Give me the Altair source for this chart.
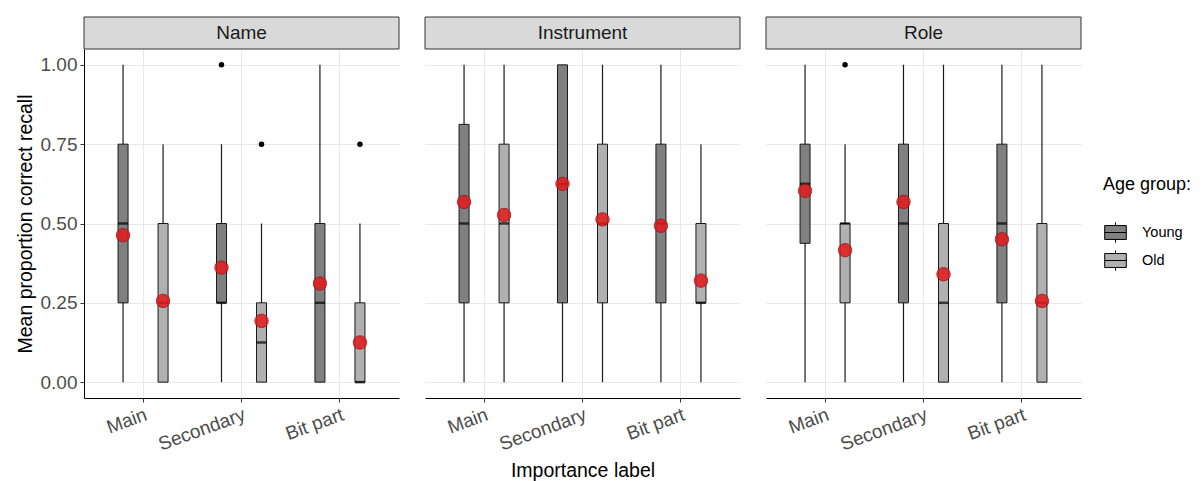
import altair as alt
import pandas as pd

panels = ["Name", "Instrument", "Role"]
labels = ["Main", "Secondary", "Bit part"]
ages = ["Young", "Old"]

# order: panel -> label -> age (Young, Old)
whisker_low = [0, 0, 0, 0, 0, 0,
               0, 0, 0, 0, 0, 0,
               0, 0, 0, 0, 0, 0]
whisker_high = [1.0, 0.75, 0.75, 0.5, 1.0, 0.5,
                1.0, 1.0, 1.0, 1.0, 1.0, 0.75,
                1.0, 0.75, 1.0, 1.0, 1.0, 1.0]
q1 = [0.25, 0.0, 0.25, 0.0, 0.0, 0.0,
      0.25, 0.25, 0.25, 0.25, 0.25, 0.25,
      0.4375, 0.25, 0.25, 0.0, 0.25, 0.0]
q3 = [0.75, 0.5, 0.5, 0.25, 0.5, 0.25,
      0.8125, 0.75, 1.0, 0.75, 0.75, 0.5,
      0.75, 0.5, 0.75, 0.5, 0.75, 0.5]
median = [0.5, 0.25, 0.25, 0.125, 0.25, 0.0,
          0.5, 0.5, 0.625, 0.5, 0.5, 0.25,
          0.625, 0.5, 0.5, 0.25, 0.5, 0.25]
mean = [0.463, 0.256, 0.361, 0.193, 0.311, 0.125,
        0.568, 0.527, 0.625, 0.513, 0.493, 0.320,
        0.603, 0.416, 0.568, 0.340, 0.450, 0.256]

out_panel = ["Name", "Name", "Name", "Role"]
out_label = ["Secondary", "Secondary", "Bit part", "Main"]
out_age = ["Young", "Old", "Old", "Old"]
out_value = [1.0, 0.75, 0.75, 1.0]

rows = []
i = 0
for p in panels:
    for l in labels:
        for a in ages:
            rows.append(dict(panel=p, label=l, age=a, low=whisker_low[i], high=whisker_high[i],
                             q1=q1[i], q3=q3[i], median=median[i], mean=mean[i]))
            i += 1
df = pd.DataFrame(rows)
df_out = pd.DataFrame(dict(panel=out_panel, label=out_label, age=out_age, value=out_value))

W, H = 315, 349
FONT = "Liberation Sans"

yscale = alt.Scale(domain=[-0.05, 1.05], nice=False, zero=False)
xscale = alt.Scale(paddingInner=0, paddingOuter=0.1)
offscale = alt.Scale(paddingInner=0.75, paddingOuter=0.605)

def panel_chart(p, idx):
    d = df[df.panel == p]
    o = df_out[df_out.panel == p]
    if idx == 0:
        yaxis = alt.Axis(values=[0, 0.25, 0.5, 0.75, 1.0], format=".2f", title="Mean proportion correct recall",
                         labelFontSize=19, labelColor="#4d4d4d", titleFontSize=19.5, titleFontWeight="normal",
                         titleColor="black", grid=True, gridColor="#e8e8e8", domainColor="black",
                         tickColor="#333", tickSize=4, labelPadding=3, titlePadding=5)
    else:
        yaxis = alt.Axis(values=[0, 0.25, 0.5, 0.75, 1.0], title=None, labels=False, ticks=False,
                         domain=False, grid=True, gridColor="#e8e8e8", minExtent=0)
    xaxis = alt.Axis(title="Importance label" if idx == 1 else None, labelAngle=-20, labelAlign="right",
                     labelBaseline="top", bandPosition=0.5, grid=True, gridColor="#e8e8e8",
                     domainColor="black", tickColor="#333", tickSize=4, labelFontSize=19,
                     labelColor="#4d4d4d", titleFontSize=19.5, titleFontWeight="normal", titleColor="black",
                     labelPadding=3, titlePadding=8)
    X = alt.X("label:N", sort=labels, scale=xscale, axis=xaxis)
    XO = alt.XOffset("age:N", sort=ages, scale=offscale)
    base = alt.Chart(d)
    whisk = base.mark_rule(color="#1a1a1a", strokeWidth=1.2).encode(
        x=X, xOffset=XO, y=alt.Y("low:Q", scale=yscale, axis=yaxis), y2="high:Q")
    box = base.mark_bar(stroke="#1a1a1a", strokeWidth=1).encode(
        x=X, xOffset=XO, y=alt.Y("q1:Q", scale=yscale, axis=yaxis), y2="q3:Q",
        fill=alt.Fill("age:N", sort=ages,
                      scale=alt.Scale(domain=ages, range=["#808080", "#b0b0b0"]),
                      legend=alt.Legend(title="Age group:", orient="none", legendX=1019, legendY=127,
                                        titleFontSize=18, titleFontWeight="normal", titleColor="black",
                                        labelFontSize=14.5, labelColor="black", titlePadding=26,
                                        symbolType="M-0.9,-0.58H0.9V0.58H-0.9Z M-0.9,0H0.9 M0,-0.58V-0.85 M0,0.58V0.85",
                                        symbolSize=576, symbolStrokeColor="black", symbolStrokeWidth=1,
                                        symbolOpacity=1, rowPadding=3, labelOffset=14)))
    med = base.mark_tick(orient="horizontal", color="black", size=10, thickness=2.5).encode(
        x=X, xOffset=XO, y=alt.Y("median:Q", scale=yscale, axis=yaxis))
    outl = alt.Chart(o).mark_circle(color="black", size=30, opacity=1).encode(
        x=X, xOffset=XO, y=alt.Y("value:Q", scale=yscale, axis=yaxis))
    mn = base.mark_circle(color="#E31A1C", size=180, opacity=0.85, stroke="#a51010", strokeWidth=1).encode(
        x=X, xOffset=XO, y=alt.Y("mean:Q", scale=yscale, axis=yaxis))
    sd = alt.Chart(pd.DataFrame(dict(panel=[p])))
    strip = sd.mark_rect(fill="#d9d9d9", stroke="#333", strokeWidth=1).encode(
        x=alt.value(0), x2=alt.value(W), y=alt.value(-32), y2=alt.value(0))
    stext = sd.mark_text(fontSize=19, color="#1a1a1a", font=FONT).encode(
        x=alt.value(W / 2), y=alt.value(-16), text="panel:N")
    return alt.layer(whisk, box, med, outl, mn, strip, stext).properties(width=W, height=H)

chart = alt.hconcat(*[panel_chart(p, i) for i, p in enumerate(panels)], spacing=24).resolve_scale(
    fill="shared").properties(padding={"left": 7, "top": 8, "right": 0, "bottom": 0}).configure(
    font=FONT).configure_view(stroke=None)

chart.save("out.html", embed_options={"renderer": "svg", "actions": False})
